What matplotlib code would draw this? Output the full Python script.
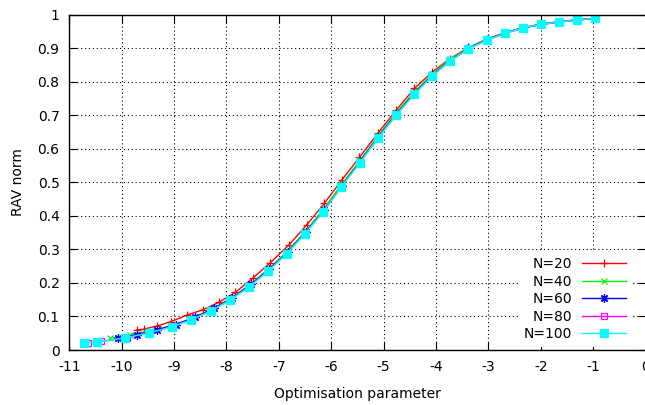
import numpy as np
import matplotlib
matplotlib.use("Agg")
import matplotlib.pyplot as plt

plt.rcParams["font.family"] = ["DejaVu Sans"]
plt.rcParams["font.size"] = 10
plt.rcParams["axes.unicode_minus"] = False

# values
x_n20 = [-9.71, -9.58, -9.32, -9.05, -8.76, -8.45, -8.15, -7.83, -7.50, -7.16,
         -6.81, -6.47, -6.13, -5.80, -5.46, -5.11, -4.76, -4.41, -4.07, -3.73,
         -3.38, -3.03, -2.69, -2.34, -1.99, -1.65, -1.30, -0.97]
y_n20 = [0.060, 0.062, 0.072, 0.085, 0.104, 0.120, 0.142, 0.172, 0.214, 0.261,
         0.313, 0.373, 0.438, 0.507, 0.575, 0.647, 0.716, 0.781, 0.830, 0.870,
         0.903, 0.928, 0.947, 0.962, 0.973, 0.980, 0.986, 0.990]

x_n40 = [-10.22, -9.85, -9.45, -9.04, -8.67, -8.29, -7.93, -7.56, -7.20, -6.85,
         -6.50, -6.15, -5.81, -5.45, -5.11, -4.76, -4.41, -4.07, -3.73, -3.38,
         -3.03, -2.69, -2.34, -1.99, -1.65, -1.30, -0.97]
y_n40 = [0.035, 0.045, 0.058, 0.072, 0.093, 0.121, 0.153, 0.194, 0.241, 0.293,
         0.353, 0.420, 0.493, 0.566, 0.639, 0.708, 0.771, 0.824, 0.868, 0.902,
         0.927, 0.946, 0.962, 0.973, 0.980, 0.985, 0.990]

x_n60 = [-10.07, -9.71, -9.33, -8.97, -8.60, -8.24, -7.89, -7.53, -7.18, -6.83,
         -6.49, -6.14, -5.80, -5.45, -5.11, -4.76, -4.41, -4.07, -3.73, -3.38,
         -3.03, -2.69, -2.34, -1.99, -1.65, -1.30, -0.97]
y_n60 = [0.035, 0.046, 0.060, 0.076, 0.098, 0.124, 0.156, 0.196, 0.242, 0.293,
         0.351, 0.417, 0.489, 0.562, 0.635, 0.704, 0.767, 0.820, 0.864, 0.900,
         0.926, 0.946, 0.961, 0.972, 0.979, 0.985, 0.990]

x_n80 = [-10.64, -10.40, -9.90, -9.45, -9.04, -8.67, -8.29, -7.93, -7.56, -7.20,
         -6.85, -6.50, -6.15, -5.81, -5.45, -5.11, -4.76, -4.41, -4.07, -3.73,
         -3.38, -3.03, -2.69, -2.34, -1.99, -1.65, -1.30, -0.97]
y_n80 = [0.022, 0.026, 0.037, 0.052, 0.070, 0.091, 0.118, 0.150, 0.190, 0.237,
         0.288, 0.348, 0.414, 0.487, 0.560, 0.633, 0.702, 0.765, 0.819, 0.863,
         0.899, 0.925, 0.945, 0.961, 0.972, 0.979, 0.985, 0.990]

x_n100 = [-10.72, -10.47, -9.94, -9.48, -9.04, -8.67, -8.29, -7.93, -7.56, -7.20,
          -6.85, -6.50, -6.15, -5.81, -5.45, -5.11, -4.76, -4.41, -4.07, -3.73,
          -3.38, -3.03, -2.69, -2.34, -1.99, -1.65, -1.30, -0.97]
y_n100 = [0.021, 0.024, 0.036, 0.051, 0.069, 0.090, 0.117, 0.149, 0.189, 0.236,
          0.287, 0.347, 0.413, 0.486, 0.559, 0.632, 0.701, 0.764, 0.818, 0.863,
          0.899, 0.925, 0.945, 0.961, 0.972, 0.979, 0.985, 0.990]

x_ticks = list(range(-11, 1))
y_ticks = [0, 0.1, 0.2, 0.3, 0.4, 0.5, 0.6, 0.7, 0.8, 0.9, 1]
y_tick_labels = ["0", "0.1", "0.2", "0.3", "0.4", "0.5", "0.6", "0.7", "0.8", "0.9", "1"]

series = [
    ("N=20", x_n20, y_n20, "#ff0000", "+", 6, "full"),
    ("N=40", x_n40, y_n40, "#00ff00", "x", 5, "full"),
    ("N=60", x_n60, y_n60, "#0000ff", (8, 2, 0), 6, "full"),
    ("N=80", x_n80, y_n80, "#ff00ff", "s", 4.5, "none"),
    ("N=100", x_n100, y_n100, "#00ffff", "s", 5.5, "full"),
]

fig = plt.figure(figsize=(6.45, 4.05), dpi=100)
ax = fig.add_axes([0.1074, 0.1358, 0.8934, 0.8272])

for label, xs, ys, col, mk, ms, fill in series:
    ax.plot(xs, ys, color=col, lw=1, marker=mk, ms=ms, mew=0.9,
            fillstyle=fill, label=label)

ax.set_xlim(-11, 0)
ax.set_ylim(0, 1)
ax.set_xticks(x_ticks)
ax.set_yticks(y_ticks)
ax.set_yticklabels(y_tick_labels)
ax.tick_params(direction="in", length=5.5, width=0.8, top=True, right=True, pad=7,
               labelsize=10)
ax.grid(True, color="black", lw=0.8, linestyle=(0, (1, 2.5)))
for s in ax.spines.values():
    s.set_linewidth(1)

ax.set_xlabel("Optimisation parameter", fontsize=10)
ax.set_ylabel("RAV norm", fontsize=10)
ax.xaxis.set_label_coords(0.5, -0.11)
ax.yaxis.set_label_coords(-0.077, 0.5)

leg = ax.legend(loc="lower right", bbox_to_anchor=(0.976, 0.01), frameon=True,
                facecolor="white", edgecolor="none", framealpha=1, fancybox=False,
                markerfirst=False, handlelength=3.2, handletextpad=0.7,
                labelspacing=0.25, borderpad=0.4, borderaxespad=0, fontsize=10)

fig.savefig("out.png", dpi=100)
